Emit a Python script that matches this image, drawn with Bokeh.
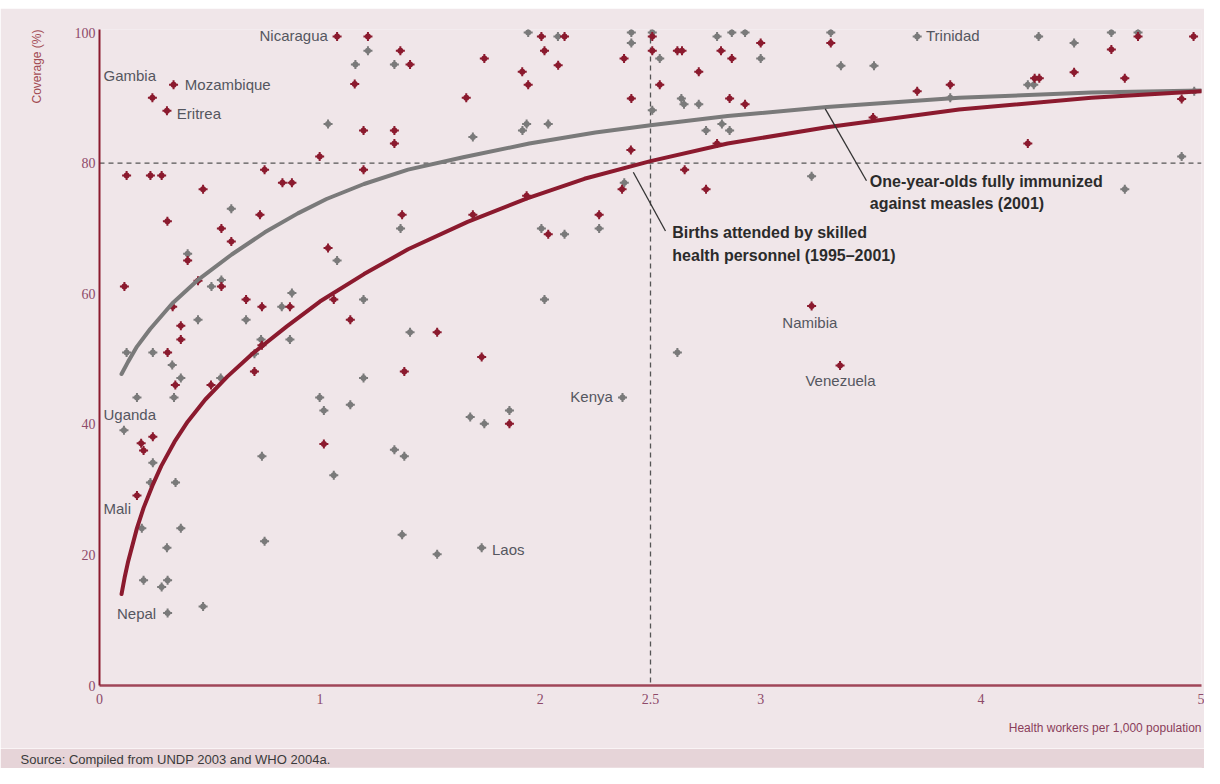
from bokeh.plotting import figure
from bokeh.models import Range1d, FixedTicker, Span, Label, Title
from bokeh.layouts import column
from bokeh.embed import file_html
from bokeh.resources import INLINE

# ---------------- data ----------------
# Births attended by skilled health personnel (1995-2001), %
births_x = [1.078, 1.218, 1.365, 1.409, 1.158, 0.336, 0.240, 0.306, 1.664, 1.198,
            1.338, 1.338, 0.999, 1.198, 0.749, 0.123, 0.231, 0.282, 0.470, 0.830,
            0.873, 0.728, 0.308, 0.553, 0.598, 1.373, 1.037, 0.400, 0.113, 0.553,
            0.447, 0.665, 0.737, 0.864, 1.063, 0.332, 0.369, 0.369, 1.138, 1.532,
            0.737, 0.309, 0.344, 0.506, 0.703, 1.383, 1.018, 0.242, 0.189, 0.200,
            0.170, 2.005, 2.110, 2.019, 1.746, 1.918, 1.945, 2.081, 2.380, 2.508,
            2.508, 2.413, 2.542, 2.622, 2.643, 2.719, 2.820, 2.869, 2.859, 2.929,
            3.000, 3.318, 2.411, 2.802, 2.655, 2.752, 2.371, 2.267, 2.036, 1.938,
            1.694, 3.231, 1.734, 1.860, 3.710, 3.860, 3.510, 4.243, 4.264, 4.422,
            4.591, 4.712, 4.964, 4.652, 4.910, 4.212, 3.360]
births_y = [99.4, 99.4, 97.2, 95.1, 92.1, 92.0, 90.0, 88.0, 90.0, 85.0,
            85.0, 83.0, 81.0, 79.0, 79.0, 78.1, 78.1, 78.1, 76.0, 77.0,
            77.0, 72.1, 71.1, 70.0, 68.0, 72.1, 67.0, 65.1, 61.1, 61.1,
            62.0, 59.1, 58.0, 58.0, 59.1, 58.0, 55.1, 53.0, 56.0, 54.1,
            52.1, 51.0, 46.0, 46.0, 48.1, 48.1, 37.0, 38.1, 37.1, 36.0,
            29.1, 99.4, 99.4, 97.2, 96.0, 94.0, 92.0, 95.0, 96.0, 99.4,
            97.2, 89.9, 92.0, 97.2, 97.2, 94.0, 97.2, 96.0, 89.9, 89.0,
            98.4, 98.4, 82.0, 83.0, 79.0, 76.0, 76.0, 72.1, 69.1, 75.0,
            72.1, 58.1, 50.3, 40.1, 91.0, 92.0, 87.0, 93.0, 93.0, 93.9,
            97.4, 99.4, 99.4, 93.0, 89.8, 83.0, 49.0]

# One-year-olds fully immunized against measles (2001), %
measles_x = [1.218, 1.161, 1.338, 1.037, 0.598, 0.400, 1.078, 1.366, 0.553, 0.508,
             0.873, 0.827, 1.198, 0.447, 0.665, 0.864, 0.733, 1.409, 0.242, 0.123,
             0.703, 0.330, 0.369, 0.550, 0.170, 0.338, 0.111, 0.242, 0.231, 0.345,
             0.192, 0.369, 0.306, 0.200, 0.309, 0.282, 0.309, 0.470, 0.737, 0.749,
             1.198, 0.999, 1.018, 1.138, 1.063, 1.338, 1.383, 1.373, 1.532, 1.682,
             1.746, 1.860, 1.734, 2.373, 1.945, 2.080, 2.413, 2.508, 2.413, 2.542,
             2.802, 2.869, 2.929, 3.000, 3.318, 2.508, 2.640, 2.652, 2.719, 2.752,
             2.824, 2.859, 1.919, 1.938, 2.036, 1.694, 2.381, 2.005, 2.110, 2.267,
             3.231, 2.019, 2.622, 3.710, 3.364, 3.514, 3.860, 4.212, 4.239, 4.261,
             4.422, 4.591, 4.712, 4.967, 4.910, 4.652]
measles_y = [97.2, 95.1, 95.1, 86.0, 73.0, 66.1, 65.1, 70.0, 62.1, 61.1,
             60.1, 58.0, 59.1, 56.0, 56.0, 53.0, 53.0, 54.1, 51.0, 51.0,
             50.8, 49.1, 47.1, 47.1, 44.1, 44.1, 39.1, 34.1, 31.1, 31.1,
             24.1, 24.1, 21.1, 16.1, 16.1, 15.1, 11.1, 12.1, 35.1, 22.1,
             47.1, 44.1, 42.1, 43.0, 32.2, 36.1, 35.1, 23.1, 20.1, 41.1,
             40.1, 42.1, 21.1, 44.1, 100.0, 99.4, 100.0, 100.0, 98.4, 96.0,
             99.4, 100.0, 100.0, 96.0, 100.0, 88.1, 89.9, 89.0, 89.0, 85.0,
             86.0, 85.0, 85.0, 86.0, 86.0, 84.0, 77.0, 70.0, 69.1, 70.0,
             78.0, 59.1, 51.0, 99.4, 94.9, 94.9, 90.0, 92.0, 92.0, 99.4,
             98.4, 100.0, 100.0, 91.0, 81.0, 76.0]

# Trend curves
births_trend_x = [0.10, 0.115, 0.13, 0.17, 0.20, 0.24, 0.28, 0.34, 0.40, 0.48,
                  0.58, 0.69, 0.85, 1.00, 1.20, 1.40, 1.67, 1.94, 2.20, 2.50,
                  2.85, 3.30, 3.90, 4.50, 5.00]
births_trend_y = [14.0, 16.7, 19.0, 24.1, 27.2, 30.6, 33.6, 37.3, 40.4, 43.8,
                  47.3, 50.7, 55.0, 58.8, 63.0, 66.8, 71.0, 74.6, 77.6, 80.3,
                  83.0, 85.5, 88.2, 90.0, 91.0]
measles_trend_x = [0.10, 0.13, 0.17, 0.23, 0.33, 0.45, 0.60, 0.75, 0.90, 1.03,
                   1.20, 1.40, 1.65, 1.95, 2.25, 2.50, 2.85, 3.30, 3.90, 4.50, 5.00]
measles_trend_y = [47.7, 49.6, 51.9, 54.6, 58.5, 62.2, 66.0, 69.4, 72.3, 74.5,
                   76.8, 79.0, 80.9, 83.0, 84.7, 85.8, 87.2, 88.6, 90.0, 90.8, 91.1]

x_ticks = [0, 1, 2, 2.5, 3, 4, 5]
x_tick_labels = ["0", "1", "2", "2.5", "3", "4", "5"]
y_ticks = [0, 20, 40, 60, 80, 100]

# ---------------- styling ----------------
BG = "#f0e6e9"
BAND = "#e6d4d8"
RED = "#8b1a2e"
GREY = "#7a7a7a"
FONT = "Liberation Sans"
TICK_FONT = "Liberation Sans Narrow"
TICK_COL = "#8e4a6a"
LBL_COL = "#55565f"
NOTE_COL = "#2b2b2b"
W = 1204

# white strip on top (matches the reference's top margin)
top = figure(width=W, height=8, output_backend="svg", toolbar_location=None, min_border=0,
             x_axis_location=None, y_axis_location=None,
             background_fill_color="white", border_fill_color="white")
top.outline_line_color = None
top.grid.visible = False

p = figure(width=W, height=740, x_range=Range1d(0, 5), y_range=Range1d(0, 100.46),
           output_backend="svg", toolbar_location=None,
           min_border_left=99, min_border_right=3, min_border_top=21, min_border_bottom=63,
           background_fill_color=BG, border_fill_color=BG)
p.outline_line_color = None
p.grid.visible = False

p.xaxis.ticker = FixedTicker(ticks=x_ticks)
p.xaxis.major_label_overrides = {t: s for t, s in zip(x_ticks, x_tick_labels)}
p.yaxis.ticker = FixedTicker(ticks=y_ticks)
for ax in (p.xaxis, p.yaxis):
    ax.major_tick_in = 0
    ax.major_tick_out = 0
    ax.minor_tick_in = 0
    ax.minor_tick_out = 0
    ax.major_label_text_font = TICK_FONT
    ax.major_label_text_font_size = "14px"
    ax.major_label_text_color = TICK_COL
p.xaxis.axis_line_color = "#a04658"
p.xaxis.axis_line_width = 2.5
p.xaxis.major_label_standoff = 8
p.yaxis.axis_line_color = RED
p.yaxis.axis_line_width = 2
p.yaxis.major_label_standoff = 4

# axis titles
p.add_layout(Title(text="Health workers per 1,000 population", align="right",
                   text_font=FONT, text_font_size="12px", text_font_style="normal",
                   text_color="#8a3d5a", standoff=25), "below")
p.add_layout(Title(text="Coverage (%)", align="right",
                   text_font=FONT, text_font_size="12px", text_font_style="normal",
                   text_color="#a24a52", standoff=55), "left")

# reference lines
p.add_layout(Span(location=80, dimension="width", line_color="#555555",
                  line_width=1.3, line_dash="5 4", level="underlay"))
p.add_layout(Span(location=2.5, dimension="height", line_color="#555555",
                  line_width=1.3, line_dash="5 4", level="underlay"))

# scatter points
for xs, ys, col in ((measles_x, measles_y, GREY), (births_x, births_y, RED)):
    p.scatter(xs, ys, marker="circle", size=6, fill_color=col, line_color=None)
    p.scatter(xs, ys, marker="cross", size=9, line_color=col, line_width=2)

# trend curves
p.line(measles_trend_x, measles_trend_y, line_color=GREY, line_width=4, line_cap="round",
       line_join="round")
p.line(births_trend_x, births_trend_y, line_color=RED, line_width=4, line_cap="round",
       line_join="round")

# leader lines
p.segment(x0=[2.422, 3.293], y0=[78.6, 88.3], x1=[2.568, 3.48], y1=[69.6, 77.3],
          line_color="#333333", line_width=1.3)


def lab(x, y, t, align="left", base="middle", size="15px", style="normal",
        color=LBL_COL):
    p.add_layout(Label(x=x, y=y, text=t, text_align=align, text_baseline=base,
                       text_font=FONT, text_font_size=size, text_font_style=style,
                       text_color=color))


# country labels
lab(1.036, 99.5, "Nicaragua", align="right")
lab(0.018, 93.4, "Gambia")
lab(0.387, 92.0, "Mozambique")
lab(0.351, 87.6, "Eritrea")
lab(0.018, 41.5, "Uganda")
lab(0.018, 27.1, "Mali")
lab(0.257, 11.0, "Nepal", align="right")
lab(1.781, 20.9, "Laos")
lab(2.329, 44.2, "Kenya", align="right")
lab(3.098, 55.6, "Namibia")
lab(3.203, 46.7, "Venezuela")
lab(3.750, 99.5, "Trinidad")

# series annotations
lab(2.599, 69.4, "Births attended by skilled", size="16px", style="bold", color=NOTE_COL)
lab(2.599, 65.8, "health personnel (1995\u20132001)", size="16px", style="bold", color=NOTE_COL)
lab(3.495, 77.2, "One-year-olds fully immunized", size="16px", style="bold", color=NOTE_COL)
lab(3.495, 73.8, "against measles (2001)", size="16px", style="bold", color=NOTE_COL)

# source band
band = figure(width=W, height=20, x_range=Range1d(0, 1), y_range=Range1d(0, 1),
              output_backend="svg", toolbar_location=None, min_border=0,
              x_axis_location=None, y_axis_location=None,
              background_fill_color=BAND, border_fill_color=BAND)
band.outline_line_color = None
band.grid.visible = False
band.add_layout(Title(text="Source: Compiled from UNDP 2003 and WHO 2004a.", align="left",
                      offset=-79, standoff=2, text_font=FONT, text_font_size="13px",
                      text_font_style="normal", text_color="#3a3a3a"), "above")

layout = column(top, p, band, spacing=0)
open("out.html", "w").write(file_html(layout, INLINE))
